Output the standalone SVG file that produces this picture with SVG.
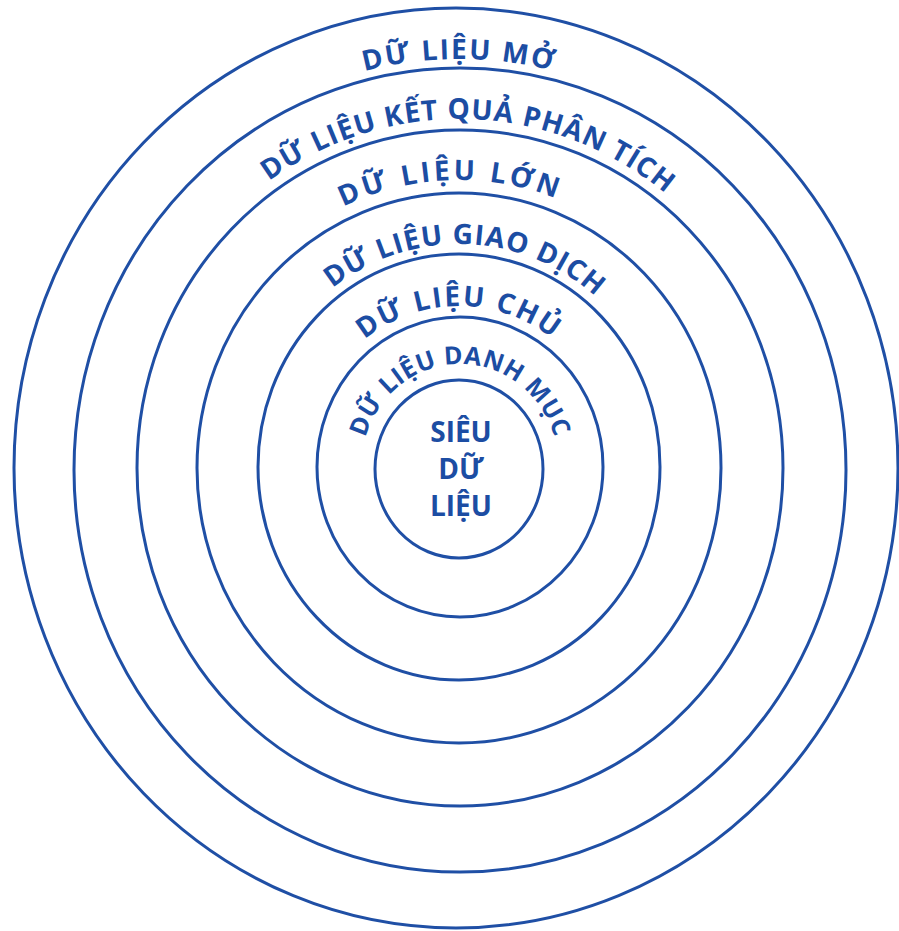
<svg xmlns="http://www.w3.org/2000/svg" xmlns:xlink="http://www.w3.org/1999/xlink" width="899" height="931" viewBox="0 0 899 931">
<style>
.ring{fill:none;stroke:#1f4fa5;stroke-width:3}
.lbl{font-family:"Open Sans","Liberation Sans",sans-serif;font-weight:700;font-size:28px;fill:#1c4da3;letter-spacing:2px}
.core{font-family:"Open Sans","Liberation Sans",sans-serif;font-weight:700;font-size:28px;fill:#1c4da3;text-anchor:middle}
</style>
<defs>
<path id="p6" d="M 361,468 A 99,104 0 0 1 559,468"/>
<path id="p5" d="M 304,468 A 155,162 0 0 1 614,468"/>
<path id="p4" d="M 247,468 A 212,224 0 0 1 671,468"/>
<path id="p3" d="M 184,468 A 275,288 0 0 1 734,468"/>
<path id="p2" d="M 125,468 A 334,349 0 0 1 793,468"/>
<path id="p1" d="M 66,468 A 393,409 0 0 1 852,468"/>
</defs>
<rect width="899" height="931" fill="#ffffff"/>
<g id="ring-mo"><ellipse class="ring" cx="456" cy="468" rx="442" ry="460"/>
<text class="lbl" text-anchor="middle"><textPath xlink:href="#p1" href="#p1" startOffset="50%">DỮ LIỆU MỞ</textPath></text></g>
<g id="ring-ketqua"><ellipse class="ring" cx="460" cy="470" rx="386" ry="402"/>
<text class="lbl" text-anchor="middle" style="letter-spacing:1px"><textPath xlink:href="#p2" href="#p2" startOffset="51%">DỮ LIỆU KẾT QUẢ PHÂN TÍCH</textPath></text></g>
<g id="ring-lon"><ellipse class="ring" cx="460" cy="468" rx="323" ry="338"/>
<text class="lbl" text-anchor="middle" style="letter-spacing:3.5px"><textPath xlink:href="#p3" href="#p3" startOffset="49%">DỮ LIỆU LỚN</textPath></text></g>
<g id="ring-giaodich"><ellipse class="ring" cx="459" cy="468" rx="262" ry="275"/>
<text class="lbl" text-anchor="middle" style="letter-spacing:1px"><textPath xlink:href="#p4" href="#p4" startOffset="51%">DỮ LIỆU GIAO DỊCH</textPath></text></g>
<g id="ring-chu"><ellipse class="ring" cx="459" cy="467" rx="201" ry="213"/>
<text class="lbl" text-anchor="middle"><textPath xlink:href="#p5" href="#p5" startOffset="50%">DỮ LIỆU CHỦ</textPath></text></g>
<g id="ring-danhmuc"><ellipse class="ring" cx="460" cy="467" rx="143" ry="150"/>
<text class="lbl" text-anchor="middle" style="font-size:25px;letter-spacing:0.5px"><textPath xlink:href="#p6" href="#p6" startOffset="50%">DỮ LIỆU DANH MỤC</textPath></text></g>
<g id="core"><ellipse class="ring" cx="459" cy="469" rx="84" ry="89"/>
<text class="core" x="461" y="442">SIÊU</text>
<text class="core" x="461" y="479">DỮ</text>
<text class="core" x="461" y="516">LIỆU</text></g>
<g id="connectors"></g>
</svg>
